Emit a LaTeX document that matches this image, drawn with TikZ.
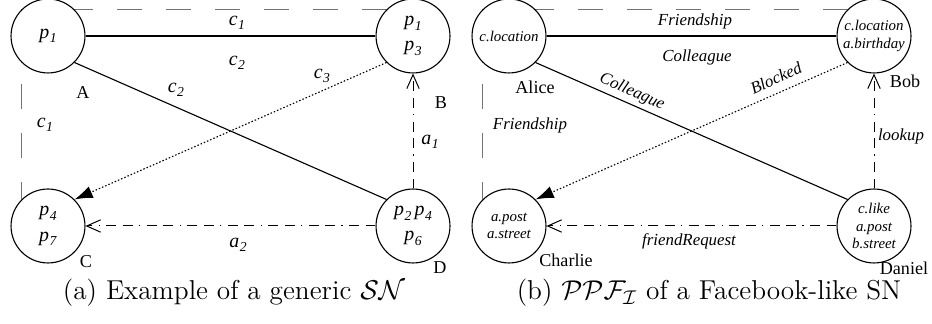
\documentclass[tikz,border=0pt]{standalone}
\usepackage{fontspec}
\newfontfamily\tms{Liberation Serif}
\usetikzlibrary{arrows.meta,backgrounds}
\newcommand\pv[1]{\textit{p}\kern0.2pt\raisebox{-0.5ex}{\fontsize{5.5}{5.5}\selectfont\textit{#1}}}
\newcommand\ev[2]{\textit{#1}\kern0.2pt\raisebox{-0.5ex}{\fontsize{5.5}{5.5}\selectfont\textit{#2}}}
\definecolor{linegray}{RGB}{115,115,115}
\begin{document}
\begin{tikzpicture}[x=0.403pt,y=-0.403pt,
  person/.style={circle,draw,line width=0.45pt,minimum size=29.8pt,inner sep=0pt,fill=white,align=center},
  pnode/.style={person,font=\tms\fontsize{8}{10.2}\selectfont},
  fnode/.style={person,font=\tms\itshape\fontsize{6}{6.9}\selectfont},
  plainline/.style={line width=0.45pt},
  dotline/.style={line width=0.45pt,dash pattern=on 0.6pt off 0.8pt},
  dashdotline/.style={line width=0.4pt,dash pattern=on 4pt off 2.6pt on 4pt off 2.6pt on 0.5pt off 2.6pt},
  graydash/.style={line width=0.6pt,linegray,dash pattern=on 10pt off 9.7pt},
  filledtip/.style={-{Latex[length=7.3pt,width=5pt]}},
  opentip/.style={-{Straight Barb[length=5.6pt,width=5pt]}},
  elab/.style={font=\tms\fontsize{8}{8}\selectfont,inner sep=0pt},
  nlab/.style={font=\tms\fontsize{7.3}{7.3}\selectfont,inner sep=0pt},
  flab/.style={font=\tms\itshape\fontsize{6.8}{6.8}\selectfont,inner sep=0pt},
  caplab/.style={font=\fontsize{11}{13}\selectfont,inner sep=0pt}
]
\useasboundingbox (0,0) rectangle (932,324);

% ---------- (a) ----------
\node[pnode] (A) at (48,36) {\pv{1}};
\node[pnode] (B) at (413,36) {\pv{1}\\\pv{3}};
\node[pnode] (C) at (48,226) {\pv{4}\\\pv{7}};
\node[pnode] (D) at (413,226) {\pv{2}\,\pv{4}\\\pv{6}};

\begin{scope}[on background layer]
  \draw[graydash] (B.north west) -- (C.north west |- B.north west) -- (C.north west);
\end{scope}
\draw[plainline] (A.east) -- (B.west);
\draw[plainline] (A.south east) -- (D.north west);
\draw[dotline,filledtip] (B.south west) -- (C.north east);
\draw[dashdotline,opentip] (D.west) -- (C.east);
\draw[dashdotline,opentip] (D.north) -- (B.south);

\node[elab] (la1) at (237,23) {\ev{c}{1}};
\node[elab] (la2) at (237,63) {\ev{c}{2}};
\node[elab] (la3) at (176,90) {\ev{c}{2}};
\node[elab] (la4) at (322,76) {\ev{c}{3}};
\node[elab] (la5) at (45,125) {\ev{c}{1}};
\node[elab] (la6) at (430,142) {\ev{a}{1}};
\node[elab] (la7) at (238,245) {\ev{a}{2}};
\node[nlab] (nA) at (83,93) {A};
\node[nlab] (nB) at (441,103) {B};
\node[nlab] (nC) at (86,262) {C};
\node[nlab] (nD) at (440,268) {D};
\node[caplab] (capa) at (234,293) {(a) Example of a generic $\mathcal{SN}$};

% ---------- (b) ----------
\node[fnode] (Al) at (509,36) {c.location};
\node[fnode] (Bo) at (874,36) {c.location\\a.birthday};
\node[fnode] (Ch) at (509,226) {a.post\\a.street};
\node[fnode] (Da) at (874,226) {c.like\\a.post\\b.street};

\begin{scope}[on background layer]
  \draw[graydash] (Bo.north west) -- (Ch.north west |- Bo.north west) -- (Ch.north west);
\end{scope}
\draw[plainline] (Al.east) -- (Bo.west);
\draw[plainline] (Al.south east) -- (Da.north west);
\draw[dotline,filledtip] (Bo.south west) -- (Ch.north east);
\draw[dashdotline,opentip] (Da.west) -- (Ch.east);
\draw[dashdotline,opentip] (Da.north) -- (Bo.south);

\node[flab] (lb1) at (695,21) {Friendship};
\node[flab] (lb2) at (697,57) {Colleague};
\node[flab,rotate=-24] (lb3) at (632,92) {Colleague};
\node[flab,rotate=24] (lb4) at (776,78) {Blocked};
\node[flab] (lb5) at (530,125) {Friendship};
\node[flab] (lb6) at (901,136) {lookup};
\node[flab] (lb7) at (689,241) {friendRequest};
\node[nlab] (nAl) at (535,87) {Alice};
\node[nlab] (nBo) at (905,81) {Bob};
\node[nlab] (nCh) at (566,260) {Charlie};
\node[nlab] (nDa) at (904,268) {Daniel};
\node[caplab] (capb) at (709,293) {(b) $\mathcal{PPF_I}$ of a Facebook-like SN};
\end{tikzpicture}
\end{document}
